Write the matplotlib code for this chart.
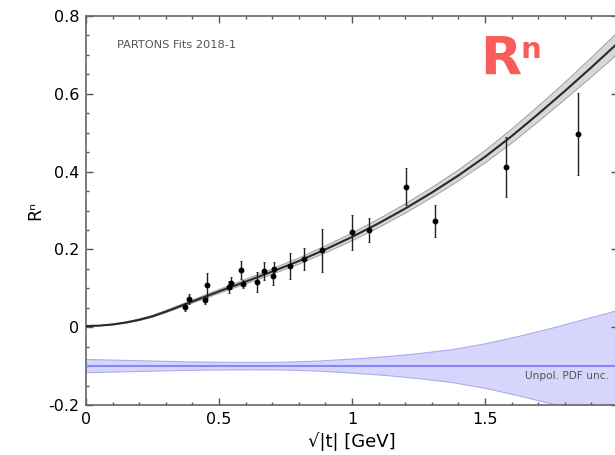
import matplotlib
matplotlib.use('Agg')
import matplotlib.pyplot as plt
from matplotlib.ticker import MultipleLocator, FixedLocator, FixedFormatter

# ---- data ----
t_pts = [0.372, 0.387, 0.447, 0.455, 0.538, 0.545, 0.583, 0.590, 0.643, 0.669, 0.703,
         0.707, 0.767, 0.820, 0.887, 1.000, 1.064, 1.203, 1.312, 1.579, 1.848]
r_pts = [0.052, 0.072, 0.070, 0.108, 0.103, 0.113, 0.147, 0.111, 0.116, 0.145, 0.132,
         0.149, 0.158, 0.175, 0.198, 0.244, 0.250, 0.361, 0.272, 0.411, 0.496]
r_err = [0.010, 0.013, 0.011, 0.032, 0.015, 0.015, 0.022, 0.010, 0.025, 0.023, 0.024,
         0.018, 0.033, 0.028, 0.055, 0.045, 0.030, 0.047, 0.041, 0.077, 0.105]

fit_t = [0.0, 0.05, 0.1, 0.15, 0.2, 0.25, 0.3, 0.35, 0.4, 0.45, 0.5,
         0.6, 0.7, 0.8, 0.9, 1.0, 1.1, 1.2, 1.3, 1.4, 1.5, 1.6, 1.7, 1.8, 1.9, 2.0]
fit_r = [0.003, 0.004, 0.007, 0.012, 0.019, 0.028, 0.040, 0.053, 0.066, 0.079, 0.092,
         0.117, 0.143, 0.170, 0.200, 0.232, 0.267, 0.305, 0.346, 0.390, 0.438,
         0.491, 0.548, 0.607, 0.668, 0.731]
fit_hw = [0.0, 0.0005, 0.001, 0.0015, 0.002, 0.0025, 0.003, 0.0035, 0.004, 0.0045, 0.005,
          0.006, 0.007, 0.008, 0.009, 0.010, 0.011, 0.012, 0.013, 0.014, 0.016,
          0.018, 0.020, 0.022, 0.025, 0.028]

pdf_t = [0.0, 0.125, 0.25, 0.375, 0.5, 0.625, 0.75, 0.875, 1.0, 1.125, 1.25,
         1.375, 1.5, 1.625, 1.75, 1.875, 2.0]
pdf_c = [-0.1] * len(pdf_t)
pdf_up = [-0.083, -0.085, -0.087, -0.089, -0.090, -0.0905, -0.090, -0.087, -0.082,
          -0.076, -0.068, -0.058, -0.043, -0.024, -0.003, 0.020, 0.043]
pdf_lo = [-0.117, -0.115, -0.113, -0.111, -0.110, -0.1095, -0.110, -0.113, -0.118,
          -0.124, -0.132, -0.142, -0.157, -0.176, -0.197, -0.220, -0.243]

xticks = [0, 0.5, 1, 1.5]
xticklabels = ['0', '0.5', '1', '1.5']
yticks = [-0.2, 0, 0.2, 0.4, 0.6, 0.8]
yticklabels = ['-0.2', '0', '0.2', '0.4', '0.6', '0.8']

fig = plt.figure(figsize=(6.15, 4.55), dpi=100)
ax = fig.add_axes([86/615, 50/455, 532/615, 389/455])

# PDF uncertainty band
ax.fill_between(pdf_t, pdf_lo, pdf_up, facecolor='#d6d6fc', edgecolor='none', zorder=1)
ax.plot(pdf_t, pdf_up, color='#ababf2', lw=0.8, zorder=2)
ax.plot(pdf_t, pdf_lo, color='#ababf2', lw=0.8, zorder=2)
ax.plot(pdf_t, pdf_c, color='#8686f4', lw=1.5, zorder=3)

# fit band
up = [r + h for r, h in zip(fit_r, fit_hw)]
lo = [r - h for r, h in zip(fit_r, fit_hw)]
ax.fill_between(fit_t, lo, up, facecolor='#d8d8d8', edgecolor='none', zorder=4)
ax.plot(fit_t, up, color='#a0a0a0', lw=0.7, zorder=5)
ax.plot(fit_t, lo, color='#a0a0a0', lw=0.7, zorder=5)
ax.plot(fit_t, fit_r, color='#2a2a2a', lw=1.5, zorder=6)

# data
ax.errorbar(t_pts, r_pts, yerr=r_err, fmt='o', ms=3.2, color='black',
            ecolor='#222222', elinewidth=1.0, capsize=0.8, capthick=0.6, zorder=7)

ax.set_xlim(0, 2.0)
ax.set_ylim(-0.2, 0.8)

ax.xaxis.set_major_locator(FixedLocator(xticks))
ax.xaxis.set_major_formatter(FixedFormatter(xticklabels))
ax.xaxis.set_minor_locator(MultipleLocator(0.1))
ax.yaxis.set_major_locator(FixedLocator(yticks))
ax.yaxis.set_major_formatter(FixedFormatter(yticklabels))
ax.yaxis.set_minor_locator(MultipleLocator(0.05))

ax.tick_params(which='both', direction='in', top=True, right=True,
               color='#555555', labelsize=11.5, labelcolor='black')
ax.tick_params(which='major', length=5, width=1)
ax.tick_params(which='minor', length=2.5, width=1)
ax.tick_params(axis='x', pad=5)
ax.tick_params(axis='y', pad=5)
for s in ax.spines.values():
    s.set_color('#666666')
    s.set_linewidth(1.2)

ax.set_xlabel('√|t| [GeV]', fontsize=13, labelpad=4)
ax.set_ylabel('Rⁿ', fontsize=12.5, labelpad=3)

ax.text(0.1165, 0.7255, 'PARTONS Fits 2018-1', fontsize=8.2, color='#555555',
        ha='left', va='center')
ax.text(1.966, -0.1249, 'Unpol. PDF unc.', fontsize=7.6, color='#555555',
        ha='right', va='center')
ax.text(1.481, 0.6483, 'R', fontsize=38.5, fontweight='bold', color='#fa5c5c',
        ha='left', va='baseline')
ax.text(1.635, 0.692, 'n', fontsize=21, fontweight='bold', color='#fa5c5c',
        ha='left', va='baseline')

fig.savefig('out.png', dpi=100)
